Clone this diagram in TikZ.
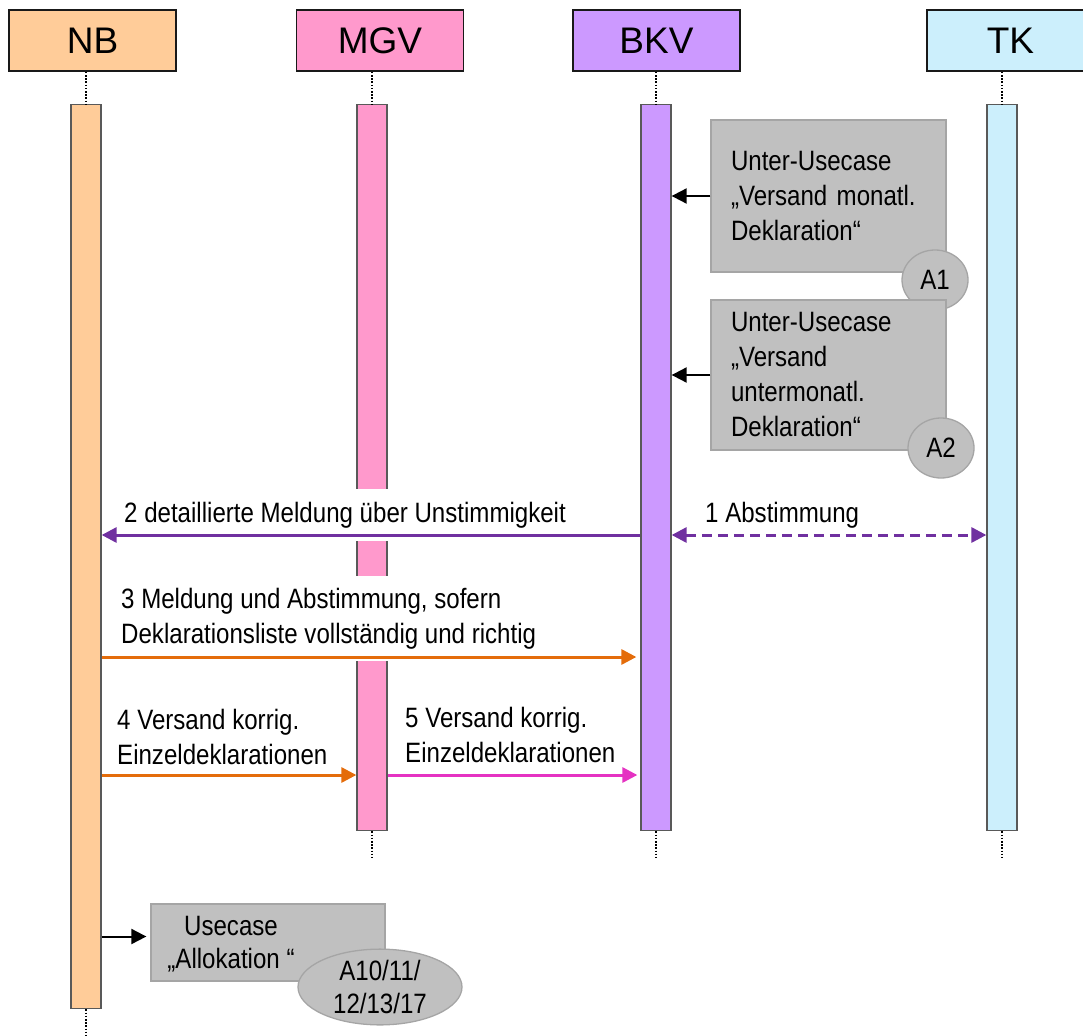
\documentclass[tikz,border=0pt]{standalone}
\usepackage{fontspec}
\setmainfont{Liberation Sans}
\newfontfamily\narrowfont{Liberation Sans}[FakeStretch=0.86]
\usetikzlibrary{arrows.meta,shapes.geometric,positioning}

\definecolor{nbcol}{HTML}{FFCC99}
\definecolor{mgvcol}{HTML}{FF99CC}
\definecolor{bkvcol}{HTML}{CC99FF}
\definecolor{tkcol}{HTML}{CCEFFC}
\definecolor{boxgray}{HTML}{C0C0C0}
\definecolor{boxline}{HTML}{A5A5A5}
\definecolor{barline}{HTML}{595959}
\definecolor{purp}{HTML}{7030A0}
\definecolor{orng}{HTML}{E46C0A}
\definecolor{magn}{HTML}{E532C2}

\tikzstyle{actor} = [draw=black!90, line width=1.8pt, rectangle, minimum width=167pt, minimum height=61pt, inner sep=0pt, font=\fontsize{37}{44}\selectfont]
\tikzstyle{actbar} = [draw=barline, line width=1.3pt, rectangle, minimum width=30pt, inner sep=0pt, anchor=north]
\tikzstyle{lifeline} = [line width=1.6pt, dash pattern=on 1.6pt off 1.6pt]
\tikzstyle{ucbox} = [draw=boxline, fill=boxgray, line width=1.3pt, rectangle, inner sep=0pt, font=\narrowfont\fontsize{28}{35}\selectfont]
\tikzstyle{subcase} = [ucbox, align=left, text width=195pt, inner xsep=20pt, minimum width=235pt]
\tikzstyle{tagshape} = [ucbox, ellipse, align=center]
\tikzstyle{msglabel} = [font=\narrowfont\fontsize{28}{35}\selectfont, align=left, anchor=base west, inner xsep=0pt, inner ysep=0pt]
\tikzstyle{msg} = [line width=3pt, -{Triangle[length=15pt,width=15pt]}]
\tikzstyle{call} = [line width=2pt, -{Triangle[length=15pt,width=15pt]}]

\begin{document}
\begin{tikzpicture}[x=1pt,y=-1pt]

	\useasboundingbox (0,0) rectangle (1083,1035);

	\node [actor, fill=nbcol] (NB) at (92.5,40.5) {NB};
	\node [actor, fill=mgvcol] (MGV) at (380,40.5) {MGV};
	\node [actor, fill=bkvcol] (BKV) at (656.5,40.5) {BKV};
	\node [actor, fill=tkcol] (TK) at (1010.5,40.5) {TK};

	\node [actbar, fill=nbcol, minimum height=904pt] (barNB) at (86,104) {};
	\node [actbar, fill=mgvcol, minimum height=726pt] (barMGV) at (372,104) {};
	\node [actbar, fill=bkvcol, minimum height=726pt] (barBKV) at (656,104) {};
	\node [actbar, fill=tkcol, minimum height=726pt] (barTK) at (1002,104) {};

	\coordinate (lowend) at (0,858);
	\coordinate (nbend) at (0,1035);
	\foreach \a in {NB,MGV,BKV,TK}
		\draw [lifeline] (bar\a.north |- \a.south) -- (bar\a.north);
	\foreach \a in {MGV,BKV,TK}
		\draw [lifeline] (bar\a.south) -- (bar\a.south |- lowend);
	\draw [lifeline] (barNB.south) -- (barNB.south |- nbend);

	% sub use cases at BKV
	\node [subcase, minimum height=152pt] (ucMonat) at (828.5,196) {Unter-Usecase\\„Versand monatl.\\Deklaration“};
	\node [tagshape, minimum width=66pt, minimum height=60pt] (tagA1) at (935,280) {A1};
	\node [subcase, minimum height=150pt] (ucUnter) at (828.5,375) {Unter-Usecase\\„Versand\\untermonatl.\\Deklaration“};
	\node [tagshape, minimum width=66pt, minimum height=60pt] (tagA2) at (941,448) {A2};

	% use case at NB
	\node [ucbox, minimum width=234pt, minimum height=77pt] (ucAlloc) at (268,942.5) {};
	\node [font=\narrowfont\fontsize{28}{33}\selectfont, align=center, inner sep=0pt] (ucAllocText) at (231,944) {Usecase\\„Allokation “};
	\node [tagshape, minimum width=164pt, minimum height=72pt, font=\narrowfont\fontsize{28}{33}\selectfont] (tagAlloc) at (380,987) {A10/11/\\12/13/17};

	% message labels
	\node [msglabel, fill=white, inner ysep=13pt] (lbl2) at (124,522) {2 detaillierte Meldung über Unstimmigkeit};
	\node [msglabel] (lbl1) at (705,522) {1 Abstimmung};
	\node [msglabel, fill=white, inner ysep=12pt] (lbl3) at (121,643) {3 Meldung und Abstimmung, sofern\\Deklarationsliste vollständig und richtig};
	\node [msglabel] (lbl4) at (117,764) {4 Versand korrig.\\Einzeldeklarationen};
	\node [msglabel] (lbl5) at (405,762) {5 Versand korrig.\\Einzeldeklarationen};

	\draw [msg, purp] ([yshift=-431pt]barBKV.north west) -- ([yshift=-431pt]barNB.north east);
	\draw [msg, purp, dash pattern=on 10pt off 6pt, {Triangle[length=15pt,width=15pt]}-{Triangle[length=15pt,width=15pt]}] ([yshift=-431pt]barBKV.north east) -- ([yshift=-431pt]barTK.north west);
	\draw [msg, orng, shorten >=4pt] ([yshift=-553pt]barNB.north east) -- ([yshift=-553pt]barBKV.north west);
	\draw [msg, orng] ([yshift=-671pt]barNB.north east) -- ([yshift=-671pt]barMGV.north west);
	\draw [msg, magn, shorten >=3pt] ([yshift=-671pt]barMGV.north east) -- ([yshift=-671pt]barBKV.north west);

	\draw [call] (ucMonat.west) -- (ucMonat.west -| barBKV.east);
	\draw [call] (ucUnter.west) -- (ucUnter.west -| barBKV.east);
	\coordinate (allocIn) at ([yshift=6pt]ucAlloc.west);
	\draw [call, shorten >=4pt] (allocIn -| barNB.east) -- (allocIn);

\end{tikzpicture}
\end{document}
